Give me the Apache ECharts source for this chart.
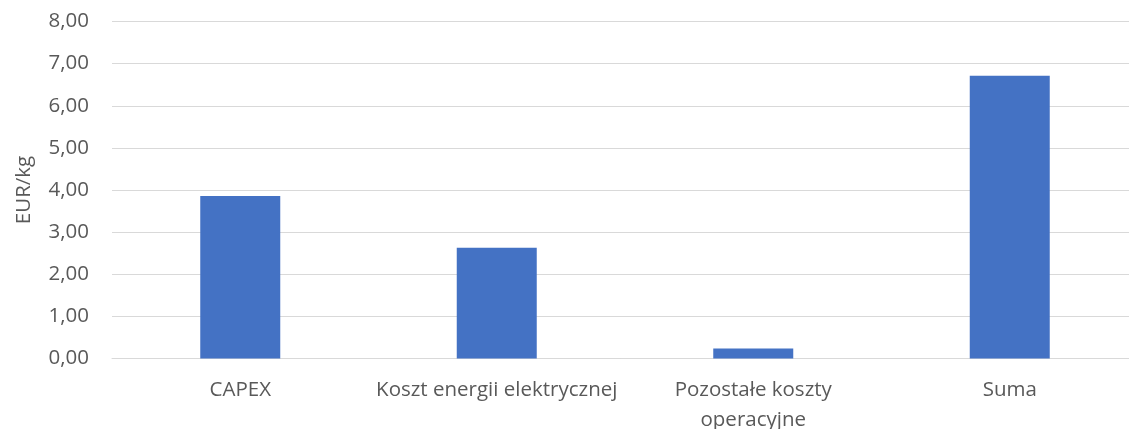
<!DOCTYPE html>
<html><head><meta charset="utf-8">
<script src="https://cdn.jsdelivr.net/npm/echarts@6/dist/echarts.min.js"></script>
<style>html,body{margin:0;padding:0;background:#fff}#c{width:1129px;height:429px}</style>
</head><body><div id="c"></div>
<script>
const categories = ['CAPEX', 'Koszt energii elektrycznej', 'Pozostałe koszty\noperacyjne', 'Suma'];
const values = [3.86, 2.63, 0.24, 6.71];
const yTicks = [0, 1, 2, 3, 4, 5, 6, 7, 8];
const yName = 'EUR/kg';

const font = 'Open Sans';
const fs = 20.5;
const chart = echarts.init(document.getElementById('c'), null, {renderer: 'canvas'});
chart.setOption({
  animation: false,
  grid: {left: 112, top: 21.5, width: 1026, height: 337, outerBoundsMode: 'none', containLabel: false},
  xAxis: {
    type: 'category', data: categories,
    axisLine: {lineStyle: {color: '#d9d9d9', width: 1}},
    axisTick: {show: false},
    axisLabel: {color: '#595959', fontFamily: font, fontSize: fs, margin: 17, lineHeight: 30, interval: 0}
  },
  yAxis: {
    type: 'value', min: yTicks[0], max: yTicks[yTicks.length - 1], interval: 1,
    name: yName, nameLocation: 'middle', nameGap: 77, nameRotate: 90,
    nameTextStyle: {color: '#595959', fontFamily: font, fontSize: fs},
    axisLine: {show: false}, axisTick: {show: false},
    splitLine: {lineStyle: {color: '#d9d9d9', width: 1}},
    axisLabel: {color: '#595959', fontFamily: font, fontSize: fs, margin: 23,
      formatter: v => v.toFixed(2).replace('.', ',')}
  },
  series: [{
    type: 'bar', data: values, barWidth: 80,
    itemStyle: {color: '#4472c4'}
  }]
});
</script></body></html>
